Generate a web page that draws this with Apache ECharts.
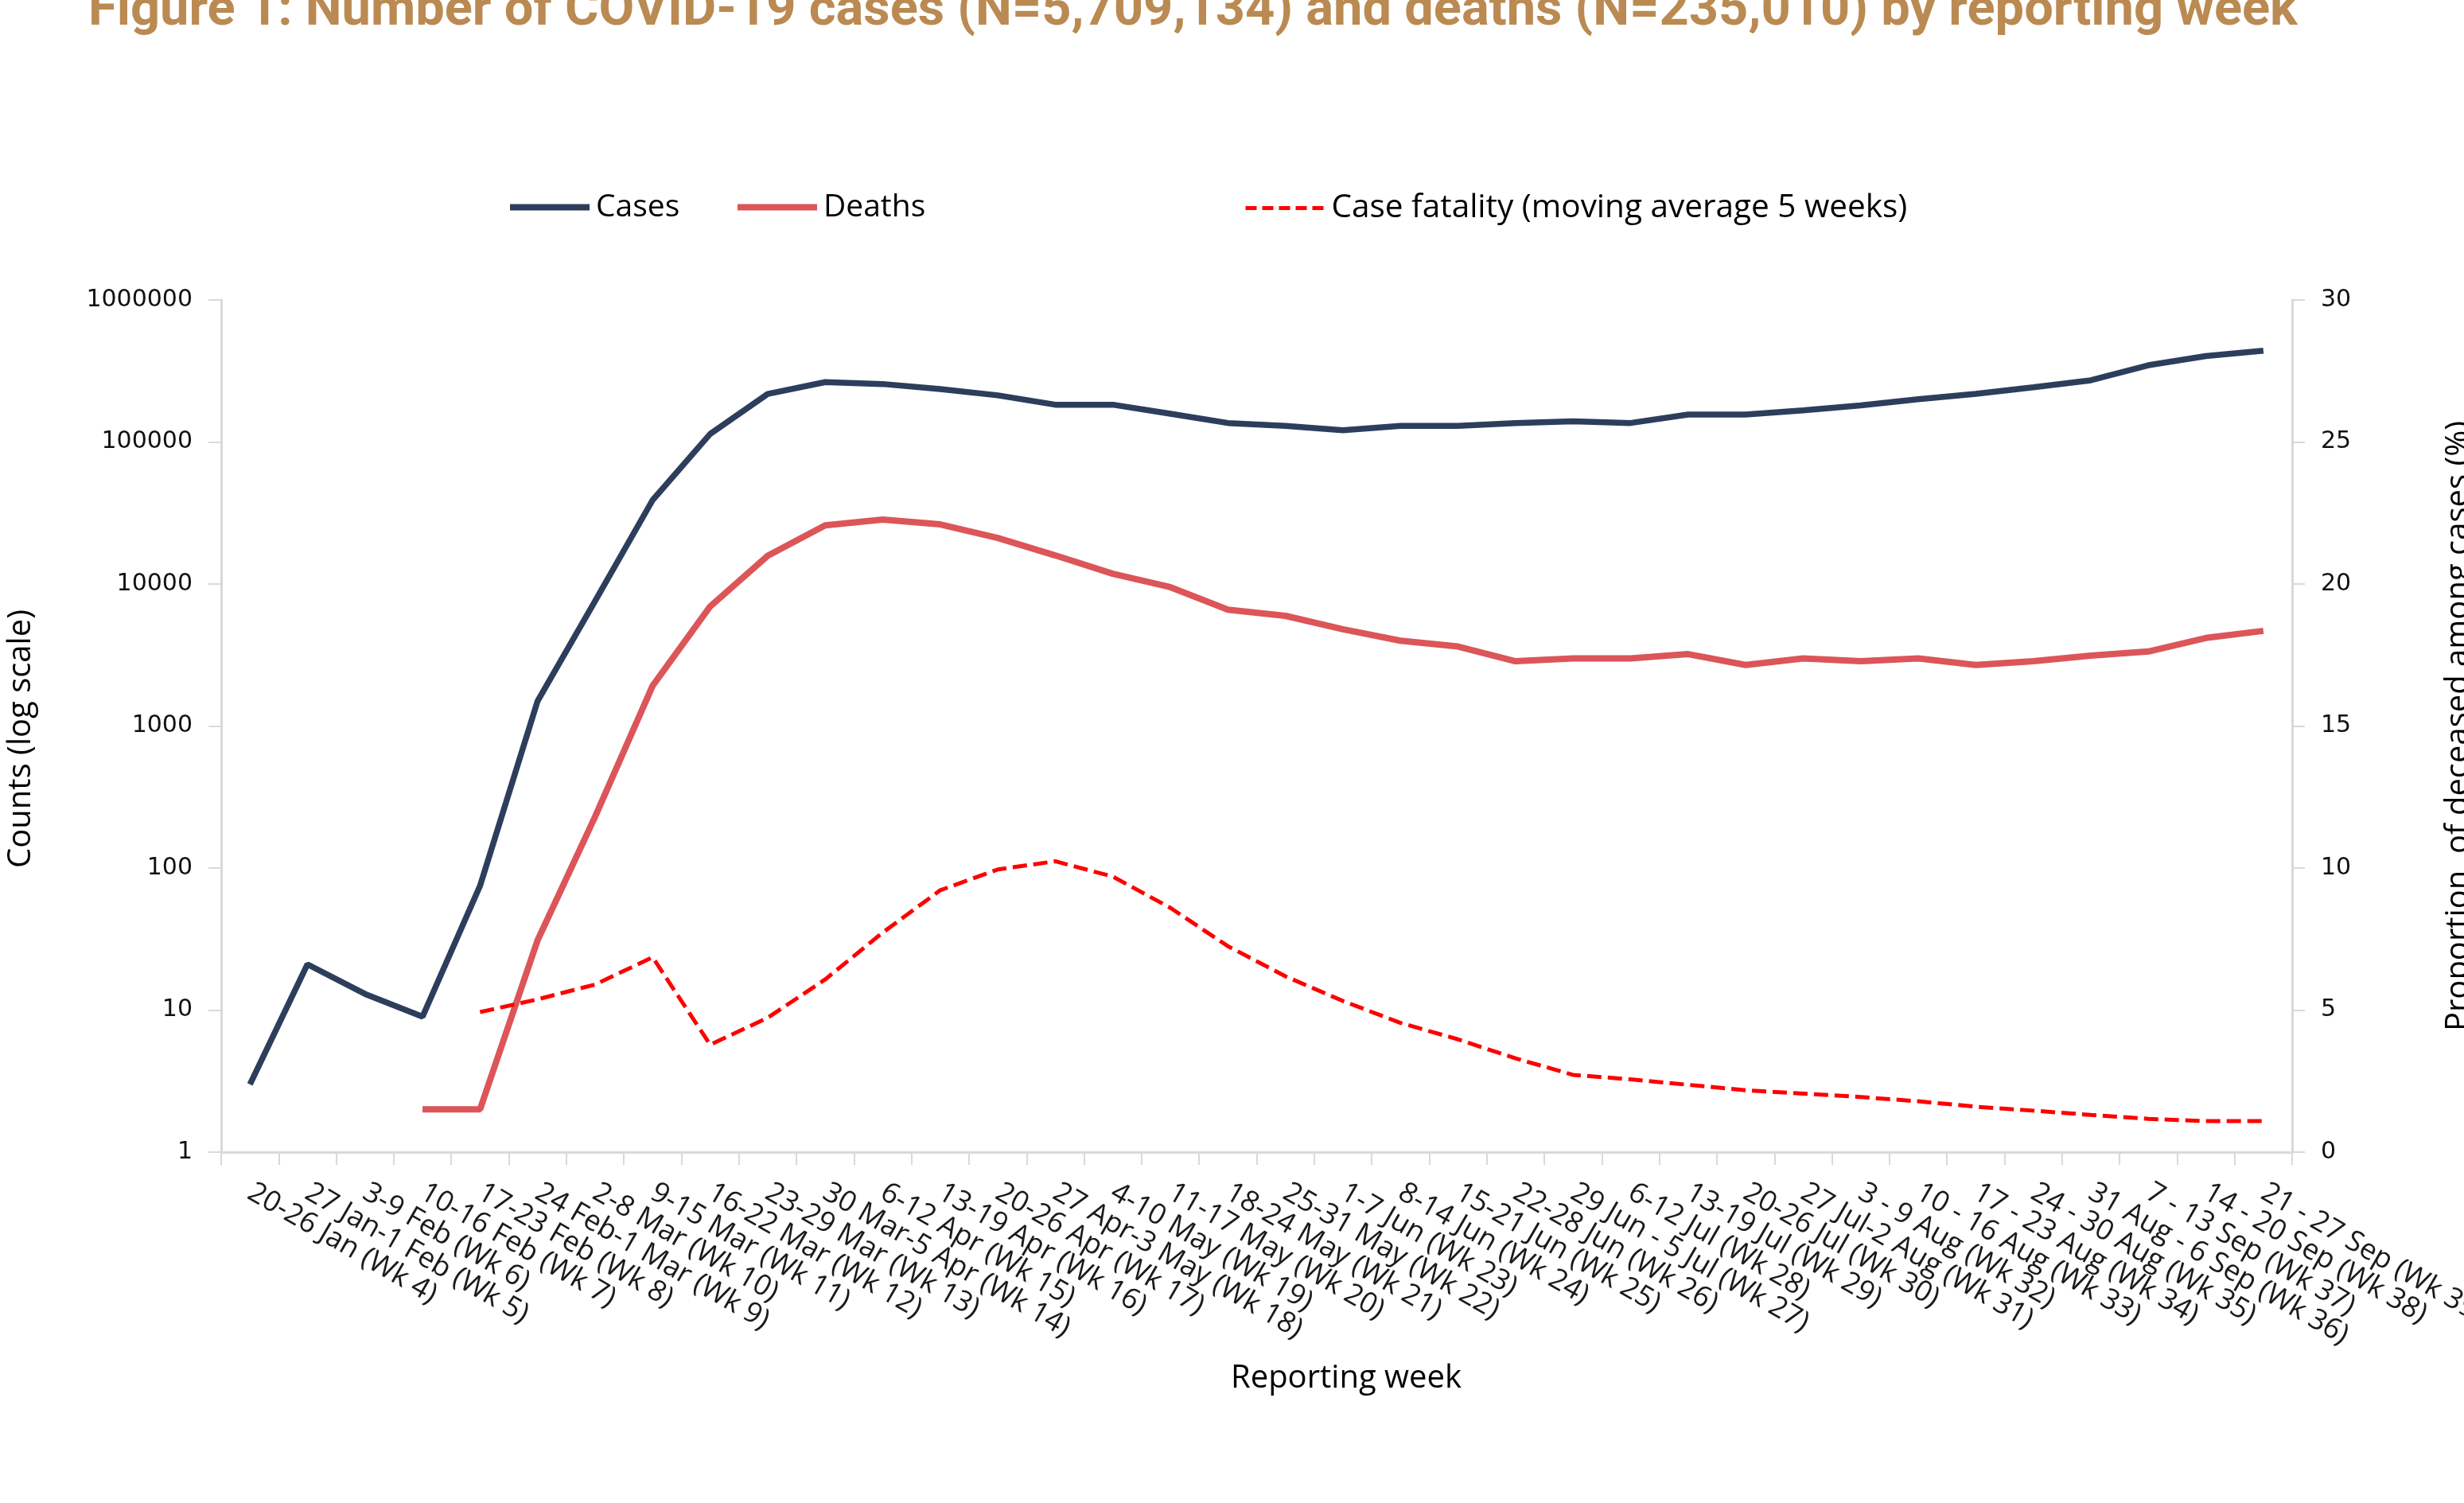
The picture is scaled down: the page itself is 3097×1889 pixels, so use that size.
<!DOCTYPE html>
<html>
<head>
<meta charset="utf-8">
<title>COVID-19 cases and deaths by reporting week</title>
<script src="https://cdn.jsdelivr.net/npm/echarts@6/dist/echarts.min.js"></script>
<style>
  html, body { margin: 0; padding: 0; background: #fff; }
  #chart { width: 3097px; height: 1889px; }
</style>
</head>
<body>
<div id="chart"></div>
<script>
const weeks = [
  '20-26 Jan (Wk 4)', '27 Jan-1 Feb (Wk 5)', '3-9 Feb (Wk 6)', '10-16 Feb (Wk 7)',
  '17-23 Feb (Wk 8)', '24 Feb-1 Mar (Wk 9)', '2-8 Mar (Wk 10)', '9-15 Mar (Wk 11)',
  '16-22 Mar (Wk 12)', '23-29 Mar (Wk 13)', '30 Mar-5 Apr (Wk 14)', '6-12 Apr (Wk 15)',
  '13-19 Apr (Wk 16)', '20-26 Apr (Wk 17)', '27 Apr-3 May (Wk 18)', '4-10 May (Wk 19)',
  '11-17 May (Wk 20)', '18-24 May (Wk 21)', '25-31 May (Wk 22)', '1-7 Jun (Wk 23)',
  '8-14 Jun (Wk 24)', '15-21 Jun (Wk 25)', '22-28 Jun (Wk 26)', '29 Jun - 5 Jul (Wk 27)',
  '6-12 Jul (Wk 28)', '13-19 Jul (Wk 29)', '20-26 Jul (Wk 30)', '27 Jul-2 Aug (Wk 31)',
  '3 - 9 Aug (Wk 32)', '10 - 16 Aug (Wk 33)', '17 - 23 Aug (Wk 34)', '24 - 30 Aug (Wk 35)',
  '31 Aug - 6 Sep (Wk 36)', '7 - 13 Sep (Wk 37)', '14 - 20 Sep (Wk 38)', '21 - 27 Sep (Wk 39)'
]

// weekly counts (log axis)
const cases = [
  3, 21, 13, 9, 75, 1500, 7600, 39000, 114000, 218000, 264000, 256000,
  236000, 213000, 183000, 183000, 158000, 136000, 130000, 121000, 130000, 130000, 136000, 140000,
  136000, 156000, 156000, 167000, 181000, 200000, 218000, 243000, 272000, 347000, 403000, 440000
]
const deaths = [
  null, null, null, 2, 2, 31, 230, 1920, 6950, 15800, 25900, 28400,
  26300, 21100, 15900, 11800, 9500, 6600, 5970, 4800, 3990, 3630, 2860, 2990,
  2990, 3210, 2690, 2990, 2860, 2990, 2690, 2860, 3130, 3350, 4170, 4680
]
// % deceased among cases, 5-week moving average (right axis)
const caseFatality = [
  null, null, null, null, 4.93, 5.38, 5.9, 6.86, 3.78, 4.73, 6.08, 7.73,
  9.22, 9.95, 10.24, 9.7, 8.6, 7.25, 6.19, 5.32, 4.55, 3.97, 3.3, 2.72,
  2.56, 2.37, 2.18, 2.06, 1.94, 1.79, 1.6, 1.46, 1.31, 1.17, 1.09, 1.09
]

const countRange = [1, 1000000]
const percentRange = [0, 30]
const percentStep = 5

const axisGrey = '#d9d9d9'
const labelFont = 'DejaVu Sans'
const textFont = 'Open Sans'

const casesColor = '#2d3e5c'
const deathsColor = '#dc5559'
const fatalityColor = '#ff0000'

const chart = echarts.init(document.getElementById('chart'))

function legendFor(name, left, line, fontSize) {
  return {
    data: [name],
    left: left,
    top: 236,
    itemWidth: 100,
    itemHeight: 20,
    itemGap: 10,
    itemStyle: { opacity: 0 },
    lineStyle: line,
    textStyle: { fontFamily: textFont, fontSize: fontSize, color: '#000', padding: [0, 0, 0, 3] }
  }
}

chart.setOption({
  animation: false,
  backgroundColor: '#fff',
  title: [
    {
      text: 'Figure 1: Number of COVID-19 cases (N=5,709,134) and deaths (N=235,010) by reporting week',
      left: 106,
      top: -23,
      textStyle: { fontFamily: 'Roboto', fontWeight: 'bold', fontSize: 65, color: '#ba8a52' }
    },
    {
      text: 'Reporting week',
      left: 1542,
      top: 1708,
      textStyle: { fontFamily: textFont, fontWeight: 'normal', fontSize: 40, color: '#000' }
    }
  ],
  legend: [
    legendFor('Cases', 632, { width: 8, color: casesColor }, 39),
    legendFor('Deaths', 918, { width: 8, color: deathsColor }, 39),
    legendFor('Case fatality (moving average 5 weeks)', 1558, { width: 5, color: fatalityColor, type: [14, 7] }, 40.5)
  ],
  grid: {
    left: 278,
    right: 216,
    top: 377,
    bottom: 441,
    containLabel: false,
    outerBoundsMode: 'none'
  },
  xAxis: {
    type: 'category',
    data: weeks,
    boundaryGap: true,
    axisLine: { lineStyle: { color: axisGrey, width: 3 } },
    axisTick: { show: true, length: 16, lineStyle: { color: axisGrey, width: 2 } },
    axisLabel: {
      interval: 0,
      rotate: -30,
      margin: 48,
      fontFamily: textFont,
      fontSize: 36,
      color: '#1a1a1a'
    },
    splitLine: { show: false }
  },
  yAxis: [
    {
      type: 'log',
      logBase: 10,
      min: countRange[0],
      max: countRange[1],
      name: 'Counts (log scale)',
      nameLocation: 'middle',
      nameRotate: 90,
      nameGap: 231,
      nameMoveOverlap: false,
      nameTextStyle: { fontFamily: textFont, fontSize: 40, color: '#000', padding: [0, 32, 0, 0] },
      axisLine: { show: true, lineStyle: { color: axisGrey, width: 3 } },
      axisTick: { show: true, length: 16, lineStyle: { color: axisGrey, width: 2 } },
      axisLabel: {
        margin: 36,
        fontFamily: labelFont,
        fontSize: 30,
        color: '#111',
        formatter: v => String(Math.round(v))
      },
      splitLine: { show: false },
      minorTick: { show: false }
    },
    {
      type: 'value',
      position: 'right',
      min: percentRange[0],
      max: percentRange[1],
      interval: percentStep,
      name: 'Proportion  of deceased among cases (%)',
      nameLocation: 'middle',
      nameRotate: 90,
      nameGap: 190,
      nameMoveOverlap: false,
      nameTextStyle: { fontFamily: textFont, fontSize: 40, color: '#000' },
      axisLine: { show: true, lineStyle: { color: axisGrey, width: 3 } },
      axisTick: { show: true, length: 16, lineStyle: { color: axisGrey, width: 2 } },
      axisLabel: {
        margin: 36,
        fontFamily: labelFont,
        fontSize: 30,
        color: '#111'
      },
      splitLine: { show: false }
    }
  ],
  series: [
    {
      name: 'Cases',
      type: 'line',
      yAxisIndex: 0,
      data: cases,
      symbol: 'none',
      color: casesColor,
      lineStyle: { color: casesColor, width: 7.5 }
    },
    {
      name: 'Deaths',
      type: 'line',
      yAxisIndex: 0,
      data: deaths,
      symbol: 'none',
      color: deathsColor,
      lineStyle: { color: deathsColor, width: 8 }
    },
    {
      name: 'Case fatality (moving average 5 weeks)',
      type: 'line',
      yAxisIndex: 1,
      data: caseFatality,
      symbol: 'none',
      color: fatalityColor,
      lineStyle: { color: fatalityColor, width: 5, type: [18, 8] },
      z: 3
    }
  ]
})
</script>
</body>
</html>
